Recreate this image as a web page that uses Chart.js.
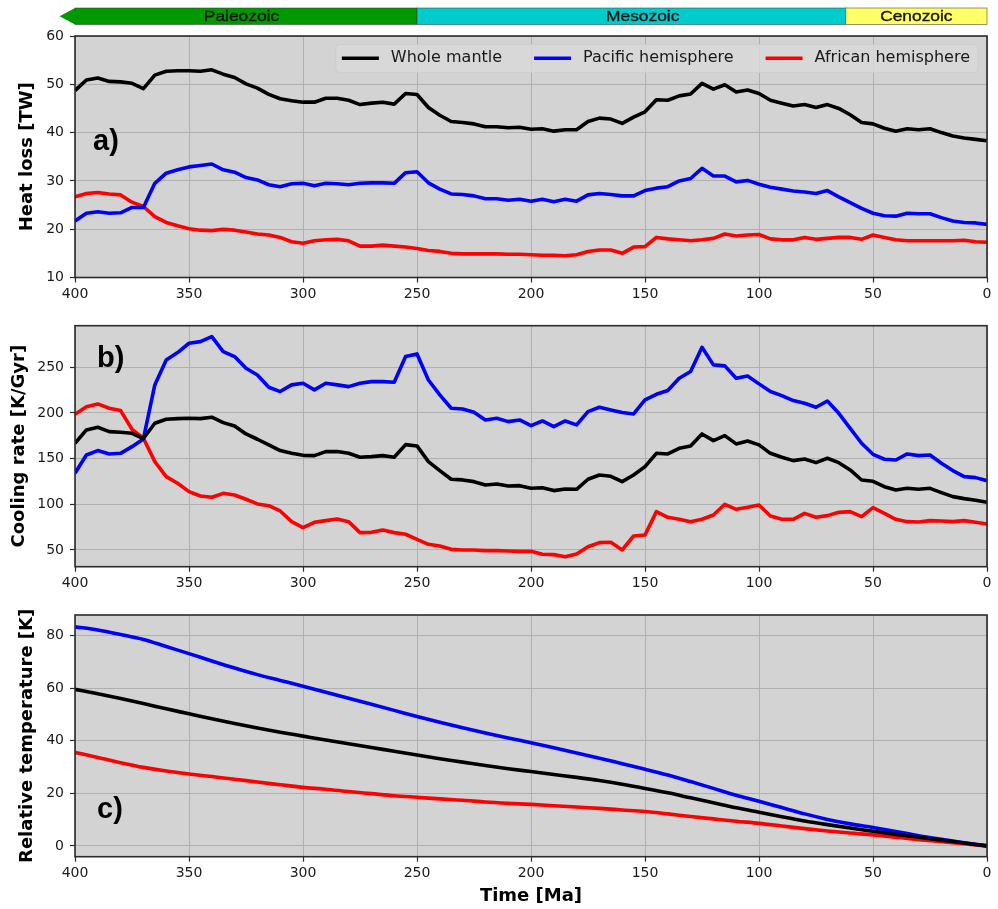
<!DOCTYPE html>
<html>
<head>
<meta charset="utf-8">
<title>Mantle heat loss, cooling rate and temperature</title>
<script src="https://cdn.jsdelivr.net/npm/chart.js@4/dist/chart.umd.min.js"></script>
<style>
  html, body { margin: 0; padding: 0; background: #ffffff; }
  #wrap { position: relative; width: 998px; height: 909px; overflow: hidden; }
  canvas { position: absolute; left: 0; }
</style>
</head>
<body>
<div id="wrap">
  <canvas id="heat" width="998" height="305" style="top:0px"></canvas>
  <canvas id="cool" width="998" height="300" style="top:300px"></canvas>
  <canvas id="temp" width="998" height="309" style="top:600px"></canvas>
</div>
<script>
// ---- Time axis (Ma) ----
const ages = [400, 395, 390, 385, 380, 375, 370, 365, 360, 355,
              350, 345, 340, 335, 330, 325, 320, 315, 310, 305,
              300, 295, 290, 285, 280, 275, 270, 265, 260, 255,
              250, 245, 240, 235, 230, 225, 220, 215, 210, 205,
              200, 195, 190, 185, 180, 175, 170, 165, 160, 155,
              150, 145, 140, 135, 130, 125, 120, 115, 110, 105,
              100, 95, 90, 85, 80, 75, 70, 65, 60, 55,
              50, 45, 40, 35, 30, 25, 20, 15, 10, 5,
              0];
const agesTemp = [400, 390, 380, 370, 360, 350, 340, 330, 320, 310,
                  300, 290, 280, 270, 260, 250, 240, 230, 220, 210,
                  200, 190, 180, 170, 160, 150, 140, 130, 120, 110,
                  100, 90, 80, 70, 60, 50, 40, 30, 20, 10,
                  0];

// ---- Series labels ----
const seriesNames = ['Whole mantle', 'Pacific hemisphere', 'African hemisphere'];
const seriesColors = ['#000000', '#0000ff', '#ff0000'];

// ---- a) Heat loss [TW] ----
const heatWhole = [48.7, 50.9, 51.3, 50.6, 50.5, 50.2, 49.1, 51.9, 52.7, 52.8,
                   52.8, 52.7, 53.0, 52.1, 51.4, 50.1, 49.2, 47.9, 47.0, 46.6,
                   46.3, 46.3, 47.1, 47.1, 46.7, 45.8, 46.1, 46.3, 45.9, 48.1,
                   47.9, 45.2, 43.6, 42.3, 42.1, 41.8, 41.2, 41.2, 41.0, 41.1,
                   40.7, 40.8, 40.3, 40.6, 40.6, 42.3, 43.0, 42.8, 41.9, 43.2,
                   44.3, 46.8, 46.7, 47.6, 48.0, 50.2, 49.0, 49.9, 48.4, 48.8,
                   48.1, 46.7, 46.1, 45.5, 45.8, 45.2, 45.8, 45.0, 43.7, 42.1,
                   41.8, 40.9, 40.3, 40.8, 40.6, 40.8, 40.0, 39.3, 38.9, 38.6,
                   38.3];
const heatPacific = [21.7, 23.3, 23.6, 23.3, 23.4, 24.5, 24.5, 29.5, 31.6, 32.3,
                     32.9, 33.2, 33.5, 32.3, 31.8, 30.7, 30.2, 29.2, 28.8, 29.4,
                     29.5, 29.0, 29.5, 29.4, 29.2, 29.5, 29.6, 29.6, 29.5, 31.7,
                     31.9, 29.6, 28.3, 27.3, 27.2, 26.9, 26.3, 26.3, 26.0, 26.2,
                     25.8, 26.2, 25.7, 26.2, 25.8, 27.1, 27.4, 27.2, 26.9, 26.9,
                     28.0, 28.5, 28.8, 30.0, 30.5, 32.6, 31.0, 31.0, 29.8, 30.1,
                     29.3, 28.7, 28.3, 27.9, 27.7, 27.4, 28.0, 26.7, 25.5, 24.3,
                     23.3, 22.8, 22.7, 23.3, 23.2, 23.2, 22.4, 21.7, 21.4, 21.3,
                     21.0];
const heatAfrican = [26.7, 27.4, 27.6, 27.3, 27.1, 25.6, 24.7, 22.6, 21.4, 20.7,
                     20.1, 19.8, 19.7, 20.0, 19.8, 19.4, 19.0, 18.8, 18.3, 17.4,
                     17.1, 17.6, 17.8, 17.9, 17.6, 16.5, 16.5, 16.7, 16.5, 16.3,
                     16.0, 15.6, 15.4, 15.0, 14.9, 14.9, 14.9, 14.9, 14.8, 14.8,
                     14.7, 14.6, 14.6, 14.5, 14.7, 15.4, 15.7, 15.7, 15.0, 16.3,
                     16.4, 18.3, 18.0, 17.8, 17.6, 17.8, 18.1, 19.0, 18.6, 18.8,
                     18.9, 18.0, 17.8, 17.8, 18.3, 17.9, 18.1, 18.3, 18.3, 17.9,
                     18.8, 18.3, 17.8, 17.6, 17.6, 17.6, 17.6, 17.6, 17.7, 17.4,
                     17.3];

// ---- b) Cooling rate [K/Gyr] ----
const coolWhole = [166.8, 181.4, 184.3, 179.6, 178.8, 177.7, 172.0, 188.7, 193.1, 193.8,
                   194.2, 193.8, 195.3, 189.4, 185.8, 177.0, 171.2, 165.0, 158.8, 155.8,
                   153.6, 153.3, 157.7, 157.7, 155.8, 151.5, 152.2, 153.3, 151.5, 165.3,
                   163.9, 146.7, 136.9, 127.4, 126.7, 124.8, 121.2, 122.3, 120.1, 120.4,
                   117.5, 118.2, 115.0, 116.8, 116.4, 127.4, 132.1, 130.7, 124.8, 132.1,
                   141.2, 155.8, 155.1, 161.3, 163.9, 177.0, 169.7, 175.2, 166.1, 169.3,
                   165.0, 155.8, 151.5, 147.8, 149.6, 145.6, 150.4, 145.6, 137.6, 126.6,
                   125.2, 119.3, 115.7, 117.5, 116.4, 117.5, 112.8, 108.4, 106.2, 104.4,
                   102.2];
const coolPacific = [134.0, 154.0, 158.8, 155.1, 155.8, 163.1, 171.5, 230.7, 258.0, 266.1,
                     276.3, 278.1, 283.6, 267.2, 261.7, 248.9, 241.6, 228.1, 223.4, 230.7,
                     232.5, 225.2, 232.5, 230.7, 228.8, 232.5, 234.3, 234.3, 233.6, 261.7,
                     264.6, 236.1, 219.7, 205.1, 204.4, 200.7, 192.3, 194.2, 190.5, 192.3,
                     186.1, 191.2, 185.0, 191.2, 186.9, 201.5, 206.2, 203.3, 200.4, 198.9,
                     214.2, 220.4, 224.5, 238.0, 245.3, 271.9, 252.6, 251.5, 238.0, 240.5,
                     231.8, 223.4, 219.0, 213.5, 210.6, 206.2, 213.1, 199.6, 183.2, 166.8,
                     154.7, 149.3, 148.5, 155.1, 153.3, 154.0, 144.9, 136.9, 130.3, 129.2,
                     125.9];
const coolAfrican = [198.5, 206.9, 209.9, 205.1, 202.6, 182.1, 172.3, 146.7, 130.3, 123.0,
                     113.9, 109.1, 107.7, 112.0, 110.2, 105.5, 100.4, 98.5, 92.7, 81.0,
                     74.4, 80.3, 82.1, 83.9, 81.0, 69.0, 69.3, 71.9, 69.0, 67.2,
                     61.7, 56.2, 54.4, 50.7, 50.0, 50.0, 49.3, 49.3, 48.9, 48.5,
                     48.5, 45.3, 44.9, 42.7, 45.6, 53.6, 58.0, 58.4, 50.0, 65.3,
                     66.4, 92.0, 85.8, 83.6, 81.0, 83.6, 88.3, 100.0, 94.5, 96.7,
                     99.3, 87.2, 83.6, 83.6, 90.1, 85.8, 87.6, 91.2, 92.0, 86.5,
                     96.4, 90.1, 83.6, 81.0, 80.7, 82.1, 81.8, 81.0, 82.1, 80.3,
                     78.5];

// ---- c) Relative temperature [K] ----
const tempWhole = [59.6, 57.9, 56.1, 54.2, 52.2, 50.3, 48.4, 46.6, 44.9, 43.3,
                   41.8, 40.3, 38.9, 37.5, 36.0, 34.6, 33.2, 31.9, 30.6, 29.4,
                   28.3, 27.2, 26.1, 24.9, 23.5, 21.9, 20.2, 18.3, 16.4, 14.5,
                   12.8, 11.1, 9.5, 8.1, 6.8, 5.6, 4.4, 3.3, 2.2, 1.1,
                   0.0];
const tempPacific = [83.4, 82.2, 80.5, 78.6, 75.9, 73.2, 70.4, 67.7, 65.2, 63.0,
                     60.8, 58.5, 56.2, 53.9, 51.6, 49.3, 47.1, 45.0, 43.0, 41.1,
                     39.3, 37.4, 35.4, 33.4, 31.3, 29.2, 27.0, 24.5, 21.9, 19.3,
                     17.0, 14.6, 12.2, 10.1, 8.4, 7.0, 5.5, 3.9, 2.5, 1.2,
                     0.0];
const tempAfrican = [35.6, 33.7, 31.7, 29.9, 28.5, 27.4, 26.4, 25.4, 24.3, 23.3,
                     22.3, 21.6, 20.7, 19.9, 19.1, 18.5, 17.9, 17.4, 16.7, 16.2,
                     15.8, 15.3, 14.8, 14.3, 13.7, 13.1, 12.2, 11.2, 10.3, 9.4,
                     8.6, 7.6, 6.6, 5.7, 4.9, 4.2, 3.3, 2.4, 1.6, 0.8,
                     0.0];

// ---- Tick values ----
const timeTicks = [400, 350, 300, 250, 200, 150, 100, 50, 0];
const heatTicks = [10, 20, 30, 40, 50, 60];
const coolTicks = [50, 100, 150, 200, 250];
const tempTicks = [0, 20, 40, 60, 80];

// ---- Geological eras along the time axis ----
const eraNames  = ['Paleozoic', 'Mesozoic', 'Cenozoic'];
const eraStart  = [400, 250, 62];
const eraEnd    = [250, 62, 0];
const eraLabelAt = [327, 151, 31];
const eraColors = ['#009a00', '#00cccc', '#ffff66'];

// ---------------------------------------------------------------------------
const TICK_FONT = { family: 'DejaVu Sans', size: 14 };
const TITLE_FONT = { family: 'DejaVu Sans', size: 18, weight: 'bold' };

function series(xs, ys) {
  return xs.map((x, i) => ({ x: x, y: ys[i] }));
}

function makeSets(xs, lists, smooth) {
  return lists.map((ys, i) => ({
    label: seriesNames[i],
    data: series(xs, ys),
    borderColor: seriesColors[i],
    backgroundColor: seriesColors[i],
    borderWidth: 3.6,
    pointRadius: 0,
    borderJoinStyle: 'round',
    borderCapStyle: 'butt',
    fill: false,
    tension: smooth ? 0.4 : 0,
    cubicInterpolationMode: smooth ? 'monotone' : 'default'
  }));
}

// Grey plot face, dark frame and bold panel letter
const panelFace = {
  id: 'panelFace',
  beforeDraw(chart) {
    const { ctx, chartArea: a } = chart;
    ctx.save();
    ctx.fillStyle = '#d3d3d3';
    ctx.fillRect(a.left, a.top, a.right - a.left, a.bottom - a.top);
    ctx.restore();
  },
  afterDatasetsDraw(chart, args, opts) {
    const { ctx, chartArea: a } = chart;
    ctx.save();
    ctx.strokeStyle = '#2b2b2b';
    ctx.lineWidth = 1.6;
    ctx.strokeRect(a.left, a.top, a.right - a.left, a.bottom - a.top);
    if (opts.letter) {
      ctx.fillStyle = '#000000';
      ctx.font = 'bold 29px "Liberation Sans", Arial, sans-serif';
      ctx.textAlign = 'left';
      ctx.textBaseline = 'alphabetic';
      ctx.fillText(opts.letter, a.left + opts.dx, a.top + opts.dy);
    }
    ctx.restore();
  }
};

// Legend box in the upper right corner of the heat-loss panel
const cornerLegend = {
  id: 'cornerLegend',
  afterDatasetsDraw(chart) {
    const { ctx, chartArea: a } = chart;
    const sets = chart.data.datasets;
    ctx.save();
    ctx.font = '16px "DejaVu Sans", sans-serif';
    const lineLen = 37, gapLT = 12, gapItem = 32, padL = 6, padR = 8;
    const widths = sets.map(d => ctx.measureText(d.label).width);
    let total = padL + padR;
    sets.forEach((d, i) => {
      total += lineLen + gapLT + widths[i];
      if (i < sets.length - 1) total += gapItem;
    });
    const right = a.right - 9;
    const left = right - total;
    const top = a.top + 8.5, bottom = a.top + 36.5;
    const r = 4;
    ctx.beginPath();
    ctx.moveTo(left + r, top);
    ctx.arcTo(right, top, right, bottom, r);
    ctx.arcTo(right, bottom, left, bottom, r);
    ctx.arcTo(left, bottom, left, top, r);
    ctx.arcTo(left, top, right, top, r);
    ctx.closePath();
    ctx.fillStyle = 'rgba(216,216,216,0.85)';
    ctx.fill();
    ctx.strokeStyle = 'rgba(204,204,204,0.8)';
    ctx.lineWidth = 1;
    ctx.stroke();

    const yMid = a.top + 22.3;
    let x = left + padL;
    sets.forEach((d, i) => {
      ctx.beginPath();
      ctx.moveTo(x, yMid);
      ctx.lineTo(x + lineLen, yMid);
      ctx.strokeStyle = d.borderColor;
      ctx.lineWidth = 3.6;
      ctx.lineCap = 'butt';
      ctx.stroke();
      x += lineLen + gapLT;
      ctx.fillStyle = '#1a1a1a';
      ctx.textAlign = 'left';
      ctx.textBaseline = 'middle';
      ctx.fillText(d.label, x, yMid);
      x += widths[i] + gapItem;
    });
    ctx.restore();
  }
};

// Era strip above the heat-loss panel, placed with the time scale
const eraStrip = {
  id: 'eraStrip',
  afterDraw(chart) {
    const { ctx } = chart;
    const xs = chart.scales.x;
    const y0 = 8, y1 = 24.5, yc = (y0 + y1) / 2;
    ctx.save();
    eraNames.forEach((name, i) => {
      const xa = xs.getPixelForValue(eraStart[i]);
      const xb = xs.getPixelForValue(eraEnd[i]);
      ctx.fillStyle = eraColors[i];
      ctx.fillRect(xa, y0, xb - xa, y1 - y0);
      ctx.strokeStyle = 'rgba(60,60,60,0.55)';
      ctx.lineWidth = 1;
      ctx.strokeRect(xa, y0, xb - xa, y1 - y0);
    });
    // arrow pointing to older times
    const xl = xs.getPixelForValue(eraStart[0]);
    ctx.beginPath();
    ctx.moveTo(xl, y0);
    ctx.lineTo(xl - 15.5, yc);
    ctx.lineTo(xl, y1);
    ctx.closePath();
    ctx.fillStyle = eraColors[0];
    ctx.fill();
    // names
    ctx.fillStyle = '#151515';
    ctx.strokeStyle = '#151515';
    ctx.lineWidth = 0.35;
    ctx.font = '14px "Liberation Sans", Arial, sans-serif';
    ctx.textAlign = 'center';
    ctx.textBaseline = 'middle';
    eraNames.forEach((name, i) => {
      const xc = xs.getPixelForValue(eraLabelAt[i]);
      ctx.save();
      ctx.translate(xc, yc + 0.5);
      ctx.scale(1.24, 1);
      ctx.fillText(name, 0, 0);
      ctx.strokeText(name, 0, 0);
      ctx.restore();
    });
    ctx.restore();
  }
};

function makePanel(id, datasets, cfg) {
  return new Chart(document.getElementById(id), {
    type: 'line',
    data: { datasets: datasets },
    options: {
      responsive: false,
      animation: false,
      devicePixelRatio: 1,
      layout: { padding: { top: cfg.padTop, right: 11, left: 0, bottom: 0 } },
      plugins: {
        legend: { display: false },
        tooltip: { enabled: false },
        panelFace: { letter: cfg.letter, dx: cfg.dx, dy: cfg.dy }
      },
      scales: {
        x: {
          type: 'linear',
          reverse: true,
          min: 0,
          max: 400,
          afterFit(scale) { scale.height = cfg.xHeight; },
          afterBuildTicks(scale) { scale.ticks = timeTicks.map(v => ({ value: v })); },
          ticks: { font: TICK_FONT, color: '#1a1a1a', padding: 3, maxRotation: 0, autoSkip: false },
          grid: { color: '#b0b0b0', lineWidth: 1, drawTicks: true, tickLength: 5, tickColor: '#2b2b2b', tickWidth: 1.2 },
          border: { display: false },
          title: cfg.xTitle
            ? { display: true, text: cfg.xTitle, font: TITLE_FONT, color: '#000000', padding: { top: 0, bottom: 2 } }
            : { display: false }
        },
        y: {
          type: 'linear',
          min: cfg.yMin,
          max: cfg.yMax,
          afterFit(scale) { scale.width = 75; },
          afterBuildTicks(scale) { scale.ticks = cfg.yTicks.map(v => ({ value: v })); },
          ticks: { font: TICK_FONT, color: '#1a1a1a', padding: 6, autoSkip: false },
          grid: { color: '#b0b0b0', lineWidth: 1, drawTicks: true, tickLength: 5, tickColor: '#2b2b2b', tickWidth: 1.2 },
          border: { display: false },
          title: { display: true, text: cfg.yTitle, font: TITLE_FONT, color: '#000000', padding: { top: cfg.yTitlePad, bottom: 0 } }
        }
      }
    },
    plugins: cfg.extraPlugins ? [panelFace].concat(cfg.extraPlugins) : [panelFace]
  });
}

makePanel('heat', makeSets(ages, [heatWhole, heatPacific, heatAfrican], false), {
  padTop: 36, xHeight: 27.5, yMin: 10, yMax: 60, yTicks: heatTicks,
  yTitle: 'Heat loss [TW]', yTitlePad: 16.2,
  letter: 'a)', dx: 18, dy: 113.5,
  extraPlugins: [cornerLegend, eraStrip]
});

makePanel('cool', makeSets(ages, [coolWhole, coolPacific, coolAfrican], false), {
  padTop: 25.7, xHeight: 33.3, yMin: 31.7, yMax: 295.5, yTicks: coolTicks,
  yTitle: 'Cooling rate [K/Gyr]', yTitlePad: 8.7,
  letter: 'b)', dx: 22, dy: 40.8
});

makePanel('temp', makeSets(agesTemp, [tempWhole, tempPacific, tempAfrican], true), {
  padTop: 15, xHeight: 52.3, yMin: -4.1, yMax: 87.9, yTicks: tempTicks,
  yTitle: 'Relative temperature [K]', yTitlePad: 16.2,
  xTitle: 'Time [Ma]',
  letter: 'c)', dx: 22, dy: 202.5
});
</script>
</body>
</html>
